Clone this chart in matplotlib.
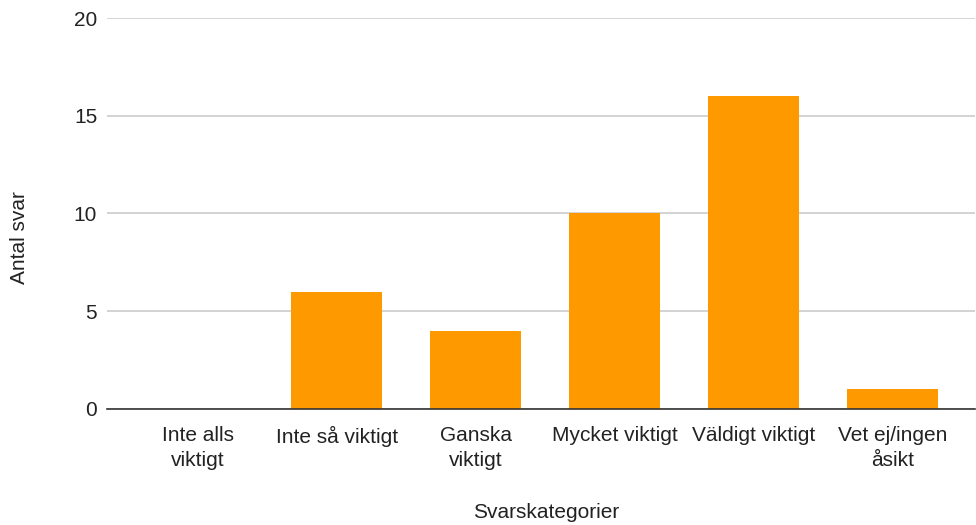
import matplotlib.pyplot as plt
import numpy as np

categories = ["Inte alls\nviktigt", "Inte så viktigt", "Ganska\nviktigt",
              "Mycket viktigt", "Väldigt viktigt", "Vet ej/ingen\nåsikt"]
values = [0, 6, 4, 10, 16, 1]
y_ticks = [0, 5, 10, 15, 20]

plt.rcParams['font.family'] = ['Liberation Sans', 'DejaVu Sans']

fig = plt.figure(figsize=(9.76, 5.25), dpi=100)
ax = fig.add_axes([0.1096, 0.221, 0.889, 0.7447])

x = np.arange(len(categories))
ax.bar(x, values, width=0.655, color='#ff9900', zorder=3)

ax.set_xlim(-0.655, 5.59)
ax.set_ylim(0, 20)
ax.set_yticks(y_ticks)
ax.set_xticks(x)
ax.set_xticklabels(categories, fontsize=15, color='#222222', linespacing=1.4)
ax.tick_params(axis='y', labelsize=15, colors='#222222', length=0, pad=7)
ax.tick_params(axis='x', length=0, pad=12)
ax.yaxis.grid(True, color='#cccccc', linewidth=1.2, zorder=0)

for side in ['top', 'right', 'left']:
    ax.spines[side].set_visible(False)
ax.spines['bottom'].set_color('#333333')
ax.spines['bottom'].set_linewidth(1.2)
ax.spines['bottom'].set_zorder(4)

fig.text(0.02, 0.547, "Antal svar", fontsize=15, color='#222222',
         rotation=90, ha='center', va='center')
fig.text(0.56, 0.023, "Svarskategorier", fontsize=15, color='#222222', ha='center', va='center')

fig.savefig('out.png', dpi=100)
